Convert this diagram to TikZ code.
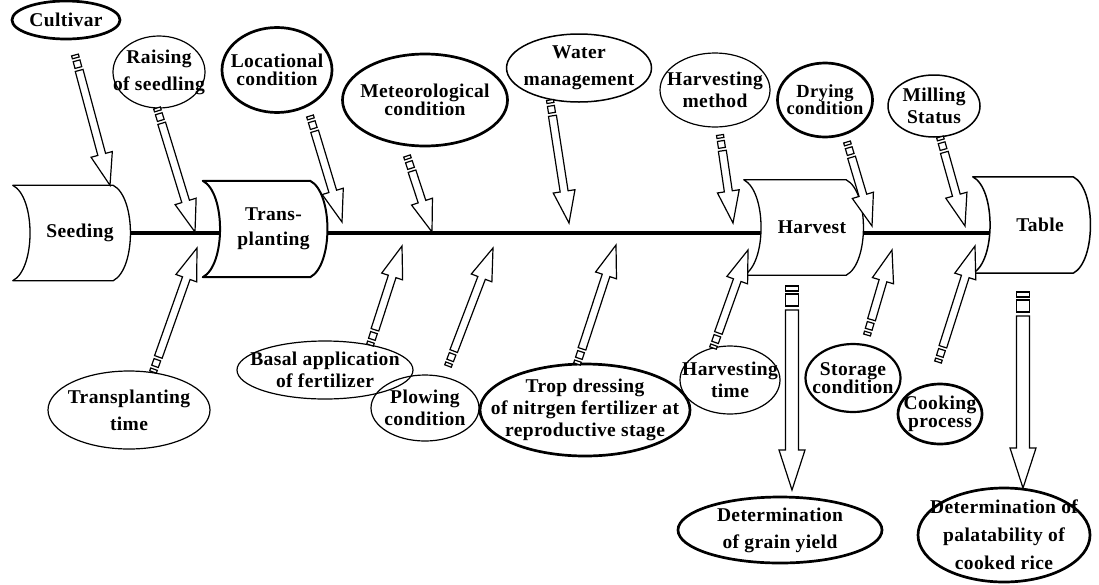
\documentclass[tikz,border=0pt]{standalone}
\usepackage{fontspec}
\setmainfont{Liberation Serif}[LetterSpace=2]
\usetikzlibrary{calc,shapes.geometric,backgrounds}
\tikzset{
    factor/.style={ellipse, draw, inner sep=-60pt, align=center, line width=1.2pt,
      font=\bfseries\fontsize{19.5}{22}\selectfont},
    heavy/.style={line width=2.7pt},
    tight/.style={font=\bfseries\fontsize{19.5}{18}\selectfont},
    loose/.style={font=\bfseries\fontsize{19.5}{27}\selectfont},
    stage/.style={inner sep=0pt, align=center, font=\bfseries\fontsize{19.5}{25}\selectfont},
    stageline/.style={line width=1.3pt, fill=white, line join=round},
    spine/.style={line width=3.8pt},
    blockline/.style={line width=1.2pt, fill=white, line join=miter},
  }
% arrow sizes: shaft, head width, head length, tail pieces
\def\sw{4pt}\def\hw{11pt}\def\hl{32pt}\def\qw{3.5pt}
\def\ta{3pt}\def\tb{6pt}\def\tc{13pt}\def\td{16pt}
\newcommand{\blockarrow}[2]{% #1 tail, #2 tip
  \coordinate (sa) at ($($(#1)!\td!(#2)$)!\sw!90:(#2)$);
  \coordinate (sb) at ($($(#1)!\td!(#2)$)!\sw!-90:(#2)$);
  \coordinate (ha) at ($($(#2)!\hl!(#1)$)!\sw!-90:(#1)$);
  \coordinate (hb) at ($($(#2)!\hl!(#1)$)!\sw!90:(#1)$);
  \coordinate (wa) at ($($(#2)!\hl!(#1)$)!\hw!-90:(#1)$);
  \coordinate (wb) at ($($(#2)!\hl!(#1)$)!\hw!90:(#1)$);
  \draw[blockline] (sa) -- (ha) -- (wa) -- (#2) -- (wb) -- (hb) -- (sb) -- cycle;
  \draw[blockline] ($($(#1)!\tb!(#2)$)!\qw!90:(#2)$) -- ($($(#1)!\tc!(#2)$)!\qw!90:(#2)$)
    -- ($($(#1)!\tc!(#2)$)!\qw!-90:(#2)$) -- ($($(#1)!\tb!(#2)$)!\qw!-90:(#2)$) -- cycle;
  \draw[blockline] ($(#1)!\qw!90:(#2)$) -- ($($(#1)!\ta!(#2)$)!\qw!90:(#2)$)
    -- ($($(#1)!\ta!(#2)$)!\qw!-90:(#2)$) -- ($(#1)!\qw!-90:(#2)$) -- cycle;
}
\newcommand{\scroll}[2][]{% #2 stage node
  \draw[stageline,#1] ($(#2.north west)+(-17,0)$) -- ($(#2.north east)+(-17,0)$)
    .. controls +(23,12) and +(23,-12) .. ($(#2.south east)+(-17,0)$)
    -- ($(#2.south west)+(-17,0)$)
    .. controls +(23,-12) and +(23,12) .. ($(#2.north west)+(-17,0)$) -- cycle;
}

\begin{document}
\begin{tikzpicture}[x=1pt,y=-1pt]
  \useasboundingbox (0,0) rectangle (1099,584);
  % stages
  \node[stage, minimum width=100pt, minimum height=95pt] (seed) at (80,233) {Seeding};
  \node[stage, minimum width=107pt, minimum height=96pt] (trans) at (273.5,229) {Trans-\\planting};
  \node[stage, minimum width=102pt, minimum height=95pt] (harv) at (812,227.5) {Harvest};
  \node[stage, minimum width=100pt, minimum height=96pt] (table) at (1040,225) {Table};
  \begin{scope}[on background layer]
    \draw[spine] (seed.east) -- (seed.east -| table.west);
    \scroll{seed}
    \scroll[line width=2pt]{trans}
    \scroll{harv}
    \scroll[line width=1.5pt]{table}
  \end{scope}
  % factors above
  \node[factor, heavy, minimum width=108pt, minimum height=38pt] (cult) at (66,20) {Cultivar};
  \node[factor, loose, minimum width=92pt, minimum height=72pt] (raise) at (159,72) {Raising\\of seedling};
  \node[factor, heavy, tight, minimum width=110pt, minimum height=85pt] (locat) at (277,70) {Locational\\condition};
  \node[factor, heavy, tight, minimum width=165pt, minimum height=92pt] (meteo) at (425,100) {Meteorological\\condition};
  \node[factor, loose, line width=1.5pt, minimum width=145pt, minimum height=68pt] (water) at (579,68) {Water\\management};
  \node[factor, minimum width=110pt, minimum height=74pt] (hmeth) at (715,90) {Harvesting\\method};
  \node[factor, heavy, font=\bfseries\fontsize{18.5}{17}\selectfont, minimum width=95pt, minimum height=74pt] (dry) at (825,100) {Drying\\condition};
  \node[factor, line width=1.5pt, minimum width=92pt, minimum height=62pt] (mill) at (934,106) {Milling\\Status};
  % factors below
  \node[factor, loose, minimum width=162pt, minimum height=78pt] (ttime) at (129,410) {Transplanting\\time};
  \node[factor, minimum width=176pt, minimum height=58pt] (basal) at (325,370) {Basal application\\of fertilizer};
  \node[factor, minimum width=108pt, minimum height=66pt] (plow) at (425,408) {Plowing\\condition};
  \node[factor, heavy, minimum width=210pt, minimum height=92pt] (trop) at (585,410) {Trop dressing\\of nitrgen fertilizer at\\reproductive stage};
  \node[factor, minimum width=100pt, minimum height=68pt] (htime) at (730,380) {Harvesting\\time};
  \node[factor, tight, line width=2.2pt, minimum width=95pt, minimum height=68pt] (store) at (853,378) {Storage\\condition};
  \node[factor, heavy, tight, minimum width=84pt, minimum height=60pt] (cook) at (940,414) {Cooking\\process};
  \node[factor, heavy, loose, minimum width=204pt, minimum height=66pt] (gyield) at (780,530) {Determination\\of grain yield};
  \node[factor, heavy, font=\bfseries\fontsize{19.5}{28}\selectfont, minimum width=172pt, minimum height=94pt] (palat) at (1004,535) {Determination of\\palatability of\\cooked rice};
  % arrow ends
  \coordinate (cultT) at ($(cult)+(9,35)$);      \coordinate (cultH) at ($(seed.north)+(30,0)$);
  \coordinate (raiseT) at ($(raise)+(-2,36)$);   \coordinate (raiseH) at (195,232);
  \coordinate (locatT) at ($(locat)+(33,46)$);   \coordinate (locatH) at (342,222);
  \coordinate (meteoT) at ($(meteo)+(-18,56)$);  \coordinate (meteoH) at (432,232);
  \coordinate (waterT) at ($(water)+(-29,32)$);  \coordinate (waterH) at (569,223);
  \coordinate (hmethT) at ($(hmeth)+(5,45)$);    \coordinate (hmethH) at (733,223);
  \coordinate (dryT) at ($(dry)+(22,42)$);       \coordinate (dryH) at (872,226);
  \coordinate (millT) at ($(mill)+(6,31)$);      \coordinate (millH) at (965,226);
  \coordinate (ttimeT) at ($(ttime)+(24,-38)$);  \coordinate (ttimeH) at (197,248);
  \coordinate (basalT) at ($(basal)+(45,-25)$);  \coordinate (basalH) at (402,246);
  \coordinate (plowT) at ($(plow)+(23,-42)$);    \coordinate (plowH) at (493,248);
  \coordinate (tropT) at ($(trop)+(-8,-46)$);    \coordinate (tropH) at (616,245);
  \coordinate (htimeT) at ($(htime)+(-17,-32)$); \coordinate (htimeH) at (748,250);
  \coordinate (storeT) at ($(store)+(14,-43)$);  \coordinate (storeH) at (892,250);
  \coordinate (cookT) at ($(cook)+(-2,-52)$);    \coordinate (cookH) at (975,246);
  \coordinate (harvT) at ($(harv)+(-20,58.5)$);  \coordinate (harvH) at ($(gyield)+(12,-40)$);
  \coordinate (tableT) at ($(table)+(-17,67)$);  \coordinate (tableH) at ($(palat)+(19,-47)$);
  % arrows
  \blockarrow{cultT}{cultH}
  \blockarrow{raiseT}{raiseH}
  \blockarrow{locatT}{locatH}
  \blockarrow{meteoT}{meteoH}
  \blockarrow{waterT}{waterH}
  \blockarrow{hmethT}{hmethH}
  \blockarrow{dryT}{dryH}
  \blockarrow{millT}{millH}
  \blockarrow{ttimeT}{ttimeH}
  \blockarrow{basalT}{basalH}
  \blockarrow{plowT}{plowH}
  \blockarrow{tropT}{tropH}
  \blockarrow{htimeT}{htimeH}
  \blockarrow{storeT}{storeH}
  \blockarrow{cookT}{cookH}
  {\def\sw{6.5pt}\def\hw{13pt}\def\hl{40pt}\def\qw{6.5pt}
   \def\ta{5pt}\def\tb{8pt}\def\tc{20pt}\def\td{24pt}
   \blockarrow{harvT}{harvH}
   \blockarrow{tableT}{tableH}}
\end{tikzpicture}
\end{document}
